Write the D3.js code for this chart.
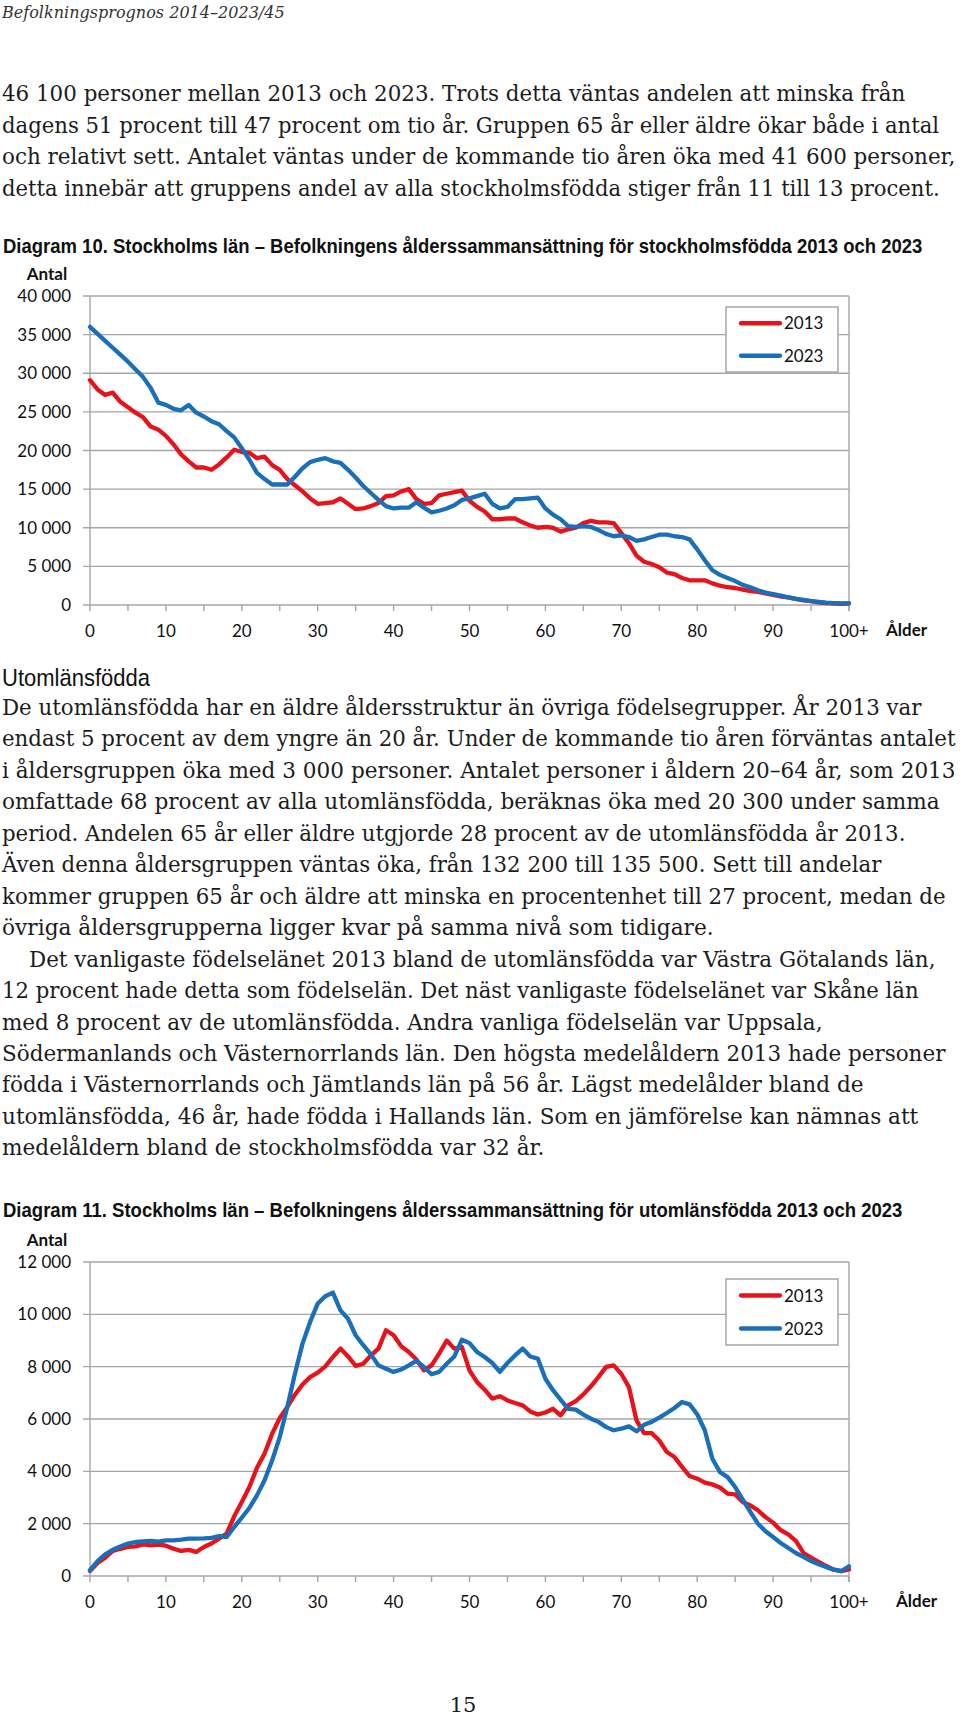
<!DOCTYPE html>
<html lang="sv">
<head>
<meta charset="utf-8">
<title>Befolkningsprognos 2014–2023/45</title>
<style>
  html, body { margin: 0; padding: 0; background: #fff; }
  svg { display: block; }
  .serif { font-family: "DejaVu Serif", Georgia, serif; font-size: 22px; fill: #1c1c1c; }
  .header { font-family: "DejaVu Serif", Georgia, serif; font-style: italic; font-size: 17px; fill: #333; }
  .title { font-family: "Liberation Sans Narrow", "Arial Narrow", "Liberation Sans", Arial, sans-serif; font-weight: bold; font-size: 20px; fill: #111; }
  .subhead { font-family: "Liberation Sans Narrow", "Arial Narrow", "Liberation Sans", Arial, sans-serif; font-size: 24px; fill: #111; }
  .axis text, .lbl { font-family: Lato, Calibri, "Open Sans", sans-serif; font-size: 17px; fill: #111; }
  .bold { font-weight: bold; }
  .grid { stroke: #a6a6a6; stroke-width: 1.4; fill: none; }
  .series { fill: none; stroke-width: 4.3; stroke-linejoin: round; stroke-linecap: round; }
</style>
</head>
<body>
<svg id="page"></svg>
<script src="https://d3js.org/d3.v7.min.js"></script>
<script>

// ---- data ----
const ages = d3.range(0, 101);   // 0 .. 100+
const xTicks = [0, 10, 20, 30, 40, 50, 60, 70, 80, 90, 100];
const xTickLabels = ["0", "10", "20", "30", "40", "50", "60", "70", "80", "90", "100+"];
const seriesNames = ["2013", "2023"];

// Diagram 10, stockholmsfödda
const yTicks10 = [0, 5000, 10000, 15000, 20000, 25000, 30000, 35000, 40000];
const sthlm2013 = [
  29100, 27900, 27200, 27500, 26300, 25600, 24900, 24300, 23100, 22700,
  21900, 20800, 19500, 18600, 17800, 17800, 17500, 18200, 19100, 20100,
  19800, 19700, 19000, 19200, 18100, 17500, 16300, 15500, 14700, 13800,
  13100, 13200, 13300, 13800, 13100, 12400, 12500, 12800, 13200, 14100,
  14200, 14700, 15000, 13700, 13100, 13200, 14200, 14400, 14600, 14800,
  13500, 12700, 12100, 11100, 11100, 11200, 11200, 10700, 10300, 10000,
  10100, 10000, 9500, 9800, 10000, 10600, 10900, 10700, 10700, 10600,
  9300, 8000, 6400, 5600, 5300, 4900, 4200, 4000, 3500, 3200,
  3200, 3200, 2800, 2500, 2300, 2200, 2000, 1800, 1700, 1500,
  1300, 1100, 1000, 800, 600, 500, 350, 250, 200, 150,
  200
];
const sthlm2023 = [
  36000, 35100, 34200, 33300, 32400, 31500, 30500, 29500, 28100, 26200,
  25900, 25400, 25200, 25900, 24900, 24400, 23800, 23400, 22500, 21700,
  20300, 18800, 17100, 16300, 15600, 15600, 15600, 16600, 17700, 18500,
  18800, 19000, 18600, 18400, 17500, 16500, 15400, 14500, 13600, 12800,
  12500, 12600, 12600, 13300, 12600, 12000, 12200, 12500, 12900, 13600,
  13800, 14100, 14400, 13100, 12500, 12700, 13700, 13700, 13800, 13900,
  12500, 11700, 11100, 10200, 10100, 10200, 10100, 9700, 9200, 8900,
  9000, 8800, 8300, 8500, 8800, 9100, 9100, 8900, 8800, 8500,
  7200, 5800, 4500, 3900, 3500, 3100, 2600, 2300, 1900, 1600,
  1400, 1200, 1000, 800, 650, 500, 400, 300, 250, 200,
  200
];

// Diagram 11, utomlänsfödda
const yTicks11 = [0, 2000, 4000, 6000, 8000, 10000, 12000];
const utom2013 = [
  190, 500, 700, 960, 1040, 1110, 1130, 1210, 1170, 1200,
  1160, 1040, 960, 1000, 920, 1110, 1240, 1430, 1620, 2280,
  2830, 3400, 4140, 4680, 5440, 6040, 6460, 6930, 7320, 7600,
  7770, 8010, 8370, 8690, 8390, 8030, 8110, 8430, 8690, 9390,
  9200, 8780, 8560, 8270, 7860, 8050, 8500, 9000, 8690, 8750,
  7860, 7410, 7120, 6780, 6870, 6710, 6610, 6520, 6290, 6170,
  6250, 6390, 6140, 6520, 6680, 6940, 7250, 7610, 7990, 8050,
  7730, 7220, 5950, 5460, 5460, 5180, 4740, 4550, 4170, 3820,
  3720, 3570, 3500, 3380, 3150, 3120, 2830, 2700, 2510, 2250,
  2040, 1750, 1590, 1340, 880, 700, 540, 380, 240, 190,
  250
];
const utom2023 = [
  220, 570, 830, 1000, 1130, 1240, 1300, 1320, 1340, 1310,
  1360, 1360, 1390, 1430, 1430, 1440, 1460, 1520, 1490, 1870,
  2230, 2600, 3080, 3660, 4420, 5310, 6460, 7730, 8880, 9710,
  10410, 10690, 10830, 10150, 9830, 9200, 8820, 8470, 8050, 7920,
  7800, 7890, 8050, 8220, 7990, 7710, 7800, 8110, 8390, 9030,
  8900, 8560, 8370, 8140, 7800, 8140, 8430, 8690, 8390, 8310,
  7540, 7100, 6740, 6390, 6360, 6170, 6010, 5890, 5690, 5570,
  5630, 5720, 5530, 5780, 5890, 6050, 6230, 6420, 6650, 6560,
  6180, 5570, 4480, 3970, 3780, 3400, 2920, 2450, 2000, 1710,
  1490, 1260, 1070, 880, 730, 570, 450, 340, 240, 190,
  370
];

// ---- page text ----
const para1 = [
  "46 100 personer mellan 2013 och 2023. Trots detta väntas andelen att minska från",
  "dagens 51 procent till 47 procent om tio år. Gruppen 65 år eller äldre ökar både i antal",
  "och relativt sett. Antalet väntas under de kommande tio åren öka med 41 600 personer,",
  "detta innebär att gruppens andel av alla stockholmsfödda stiger från 11 till 13 procent."
];
const para1W = [904, 938, 954, 938];

const para2 = [
  "De utomlänsfödda har en äldre åldersstruktur än övriga födelsegrupper. År 2013 var",
  "endast 5 procent av dem yngre än 20 år. Under de kommande tio åren förväntas antalet",
  "i åldersgruppen öka med 3 000 personer. Antalet personer i åldern 20–64 år, som 2013",
  "omfattade 68 procent av alla utomlänsfödda, beräknas öka med 20 300 under samma",
  "period. Andelen 65 år eller äldre utgjorde 28 procent av de utomlänsfödda år 2013.",
  "Även denna åldersgruppen väntas öka, från 132 200 till 135 500. Sett till andelar",
  "kommer gruppen 65 år och äldre att minska en procentenhet till 27 procent, medan de",
  "övriga åldersgrupperna ligger kvar på samma nivå som tidigare.",
  "Det vanligaste födelselänet 2013 bland de utomlänsfödda var Västra Götalands län,",
  "12 procent hade detta som födelselän. Det näst vanligaste födelselänet var Skåne län",
  "med 8 procent av de utomlänsfödda. Andra vanliga födelselän var Uppsala,",
  "Södermanlands och Västernorrlands län. Den högsta medelåldern 2013 hade personer",
  "födda i Västernorrlands och Jämtlands län på 56 år. Lägst medelålder bland de",
  "utomlänsfödda, 46 år, hade födda i Hallands län. Som en jämförelse kan nämnas att",
  "medelåldern bland de stockholmsfödda var 32 år."
];
const para2W = [920, 954, 954, 938, 904, 880, 944, 712, 907, 917, 821, 944, 862, 917, 543];

// ---- page ----
const W = 960, H = 1717;
const svg = d3.select("#page").attr("width", W).attr("height", H);
svg.append("rect").attr("width", W).attr("height", H).attr("fill", "#fff");

// draw a line of text and squeeze it horizontally to the width seen in the reference
function textLine(x, y, str, width, cls) {
  let t = svg.append("text").attr("class", cls).text(str);
  let natural = t.node().getComputedTextLength();
  let sx = width && natural ? width / natural : 1;
  t.attr("transform", `translate(${x},${y}) scale(${sx},1)`);
  return t;
}

textLine(2, 18, "Befolkningsprognos 2014–2023/45", 283, "header");

para1.forEach((s, i) => textLine(2, 101 + i * 31.5, s, para1W[i], "serif"));

textLine(3, 253, "Diagram 10. Stockholms län – Befolkningens ålderssammansättning för stockholmsfödda 2013 och 2023", 920, "title");

textLine(2, 686, "Utomlänsfödda", 148, "subhead");

para2.forEach((s, i) => {
  let x = i == 8 ? 29 : 2;   // indented first line of new paragraph
  textLine(x, 715 + i * 31.45, s, para2W[i], "serif");
});

textLine(3, 1217, "Diagram 11. Stockholms län – Befolkningens ålderssammansättning för utomlänsfödda 2013 och 2023", 900, "title");

svg.append("text").attr("class", "serif").attr("x", 463).attr("y", 1712)
  .attr("text-anchor", "middle").style("font-size", "21px").text("15");

// ---- charts ----
const colors = ["#e8121a", "#1a6fba"];
const fmt = d => d3.format(",")(d).replace(/,/g, " ");

function drawChart(opt) {
  let x = d3.scaleLinear().domain([0, 100]).range([90, 849]);
  let y = d3.scaleLinear().domain([0, opt.yMax]).range([opt.bottom, opt.top]);
  let g = svg.append("g").attr("class", "axis");

  // gridlines (extend a bit left as tick marks)
  g.selectAll(".gl").data(opt.yTicks).enter().append("line")
    .attr("class", "grid")
    .attr("x1", 83).attr("x2", x(100))
    .attr("y1", d => y(d)).attr("y2", d => y(d));

  // left axis and right frame
  g.append("line").attr("class", "grid")
    .attr("x1", x(0)).attr("x2", x(0)).attr("y1", y(0)).attr("y2", y(opt.yMax));
  g.append("line").attr("class", "grid")
    .attr("x1", x(100)).attr("x2", x(100)).attr("y1", y(0) + 6).attr("y2", y(opt.yMax));

  // x tick marks every 5 years
  g.selectAll(".xt").data(d3.range(0, 101, 5)).enter().append("line")
    .attr("class", "grid")
    .attr("x1", d => x(d)).attr("x2", d => x(d))
    .attr("y1", y(0)).attr("y2", y(0) + 6);

  // y labels
  g.selectAll(".yl").data(opt.yTicks).enter().append("text")
    .attr("x", 71).attr("y", d => y(d)).attr("dy", "0.36em")
    .attr("text-anchor", "end")
    .text(fmt);

  // x labels
  g.selectAll(".xl").data(xTicks).enter().append("text")
    .attr("x", d => x(d)).attr("y", y(0) + 32)
    .attr("text-anchor", "middle")
    .text((d, i) => xTickLabels[i]);

  g.append("text").attr("class", "bold").attr("x", 47).attr("y", opt.top - 16)
    .attr("text-anchor", "middle").text("Antal");
  g.append("text").attr("class", "bold").attr("x", opt.alderX).attr("y", y(0) + 31)
    .text("Ålder");

  // series
  let line = d3.line().x((d, i) => x(ages[i])).y(d => y(d));
  opt.series.forEach((s, k) => {
    g.append("path").attr("class", "series")
      .attr("stroke", colors[k])
      .attr("d", line(s));
  });

  // legend
  let lg = g.append("g").attr("transform", `translate(726,${opt.legendTop})`);
  lg.append("rect").attr("width", 112).attr("height", opt.legendH)
    .attr("fill", "#fff").attr("stroke", "#a0a0a0").attr("stroke-width", 1.4);
  let ly = [opt.legendH * 0.25, opt.legendH * 0.75];
  seriesNames.forEach((n, k) => {
    lg.append("line").attr("class", "series").attr("stroke", colors[k])
      .attr("x1", 15).attr("x2", 54).attr("y1", ly[k]).attr("y2", ly[k]);
    lg.append("text").attr("x", 58).attr("y", ly[k]).attr("dy", "0.36em").text(n);
  });
}

drawChart({
  top: 296, bottom: 605, yMax: 40000, yTicks: yTicks10,
  series: [sthlm2013, sthlm2023],
  legendTop: 307, legendH: 65, alderX: 886
});

drawChart({
  top: 1262, bottom: 1576, yMax: 12000, yTicks: yTicks11,
  series: [utom2013, utom2023],
  legendTop: 1279, legendH: 66, alderX: 896
});

</script>
</body>
</html>
